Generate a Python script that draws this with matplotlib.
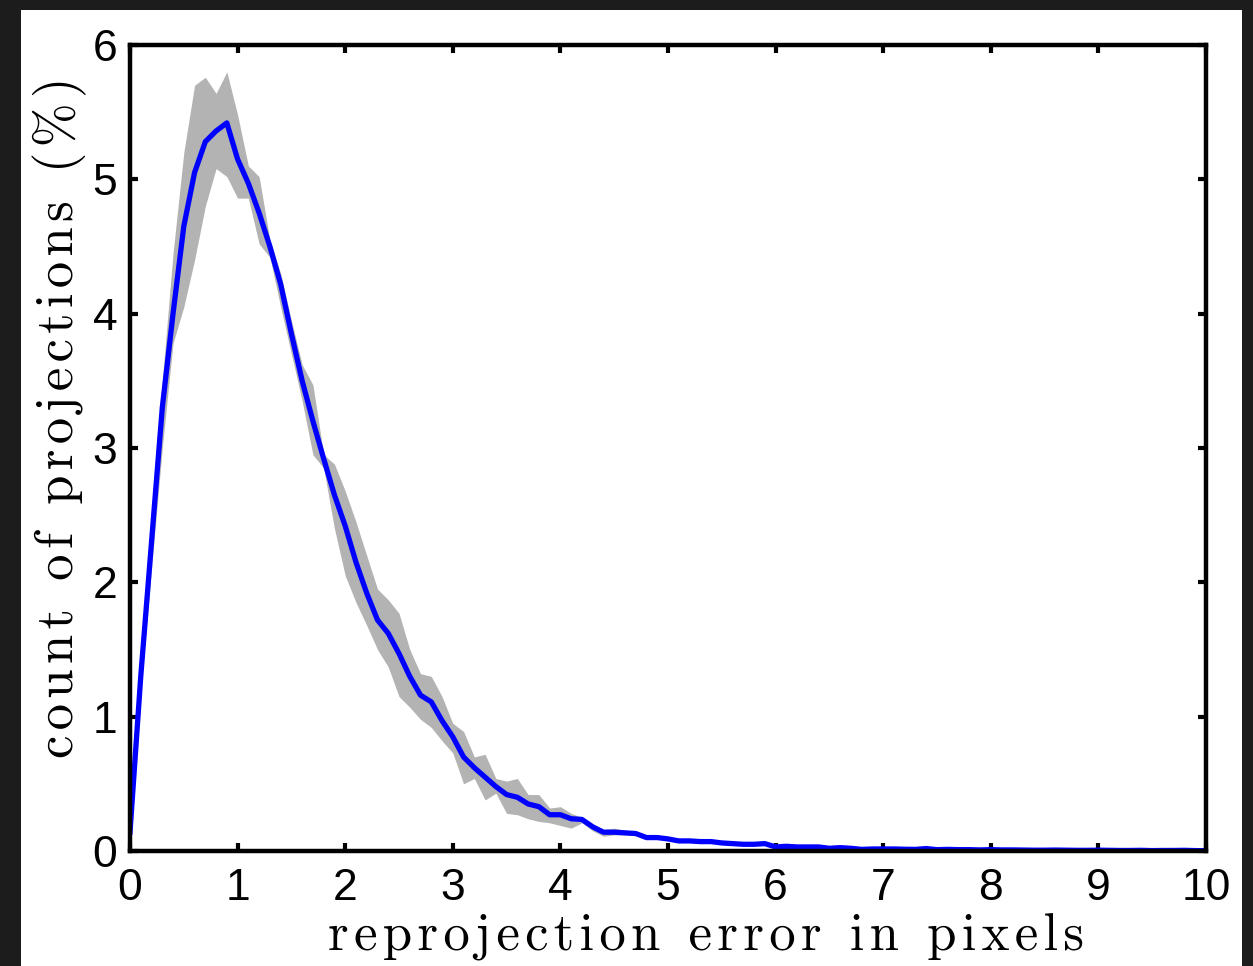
import numpy as np
import matplotlib
matplotlib.use('Agg')
import matplotlib.pyplot as plt
from matplotlib.patches import Rectangle

# reprojection error bins (pixels)
err_px = np.linspace(0.0, 10.0, 101)

# mean histogram (% of projections)
mean_pct = [
    0.14, 1.30, 2.30, 3.30, 4.00, 4.65, 5.05, 5.28, 5.36, 5.42,
    5.15, 4.97, 4.75, 4.50, 4.22, 3.85, 3.50, 3.20, 2.92, 2.65,
    2.42, 2.15, 1.92, 1.72, 1.62, 1.47, 1.30, 1.16, 1.11, 0.97,
    0.85, 0.70, 0.62, 0.55, 0.48, 0.42, 0.40, 0.35, 0.33, 0.27,
    0.27, 0.24, 0.235, 0.18, 0.14, 0.14, 0.135, 0.13, 0.10, 0.10,
    0.09, 0.075, 0.075, 0.07, 0.07, 0.06, 0.055, 0.05, 0.05, 0.055,
    0.03, 0.035, 0.03, 0.03, 0.03, 0.02, 0.025, 0.02, 0.012, 0.015,
    0.015, 0.015, 0.013, 0.012, 0.018, 0.01, 0.012, 0.01, 0.01, 0.008,
    0.01, 0.008, 0.008, 0.007, 0.006, 0.006, 0.007, 0.006, 0.005, 0.005,
    0.006, 0.005, 0.004, 0.004, 0.005, 0.003, 0.004, 0.004, 0.005, 0.003,
    0.002,
]

# lower / upper envelope of the runs
low_pct = [
    0.12, 1.20, 2.10, 3.00, 3.78, 4.05, 4.40, 4.80, 5.08, 5.02,
    4.86, 4.86, 4.52, 4.42, 4.05, 3.70, 3.35, 2.95, 2.85, 2.40,
    2.05, 1.85, 1.68, 1.50, 1.37, 1.15, 1.07, 0.98, 0.92, 0.82,
    0.73, 0.50, 0.54, 0.38, 0.43, 0.28, 0.27, 0.24, 0.22, 0.21,
    0.19, 0.17, 0.21, 0.15, 0.11, 0.12, 0.12, 0.115, 0.09, 0.09,
    0.08, 0.065, 0.065, 0.06, 0.06, 0.052, 0.047, 0.043, 0.043, 0.045,
    0.025, 0.028, 0.025, 0.025, 0.024, 0.016, 0.02, 0.016, 0.009, 0.011,
    0.011, 0.011, 0.01, 0.009, 0.013, 0.007, 0.009, 0.007, 0.007, 0.006,
    0.007, 0.006, 0.006, 0.005, 0.004, 0.004, 0.005, 0.004, 0.003, 0.003,
    0.004, 0.003, 0.003, 0.003, 0.003, 0.002, 0.003, 0.003, 0.003, 0.002,
    0.001,
]
high_pct = [
    0.16, 1.40, 2.50, 3.50, 4.45, 5.20, 5.70, 5.76, 5.64, 5.80,
    5.48, 5.10, 5.02, 4.55, 4.30, 3.95, 3.62, 3.47, 2.95, 2.88,
    2.68, 2.45, 2.20, 1.95, 1.87, 1.77, 1.50, 1.32, 1.30, 1.15,
    0.95, 0.89, 0.70, 0.72, 0.54, 0.52, 0.54, 0.42, 0.42, 0.32,
    0.33, 0.28, 0.25, 0.20, 0.16, 0.17, 0.155, 0.145, 0.11, 0.11,
    0.10, 0.085, 0.085, 0.08, 0.08, 0.068, 0.063, 0.057, 0.057, 0.065,
    0.035, 0.042, 0.035, 0.035, 0.036, 0.024, 0.03, 0.024, 0.015, 0.019,
    0.019, 0.019, 0.016, 0.015, 0.023, 0.013, 0.015, 0.013, 0.013, 0.01,
    0.013, 0.01, 0.01, 0.009, 0.008, 0.008, 0.009, 0.008, 0.007, 0.007,
    0.008, 0.007, 0.005, 0.005, 0.007, 0.004, 0.005, 0.005, 0.007, 0.004,
    0.003,
]

xticks = [0, 1, 2, 3, 4, 5, 6, 7, 8, 9, 10]
yticks = [0, 1, 2, 3, 4, 5, 6]
xlabel = 'reprojection error in pixels'
ylabel = 'count of projections (%)'


def spaced(s, gap='\u200a'):
    # the original labels are letter-spaced; pad with hair spaces
    return gap.join(s)


W, H = 1253, 966
fig = plt.figure(figsize=(W / 100, H / 100), dpi=100, facecolor='#1c1c1c')

# white page on the dark backdrop
fig.patches.append(Rectangle((21 / W, 0), (1242 - 21) / W, (966 - 10) / H,
                             transform=fig.transFigure, facecolor='white',
                             edgecolor='none', zorder=-5))

ax = fig.add_axes([130 / W, (966 - 851) / H, (1206 - 130) / W, (851 - 45) / H])
ax.set_zorder(2)

ax.fill_between(err_px, low_pct, high_pct, color='#b3b3b3', linewidth=0)
ax.plot(err_px, mean_pct, color='#0000ff', linewidth=3.8)

ax.set_xlim(0, 10)
ax.set_ylim(0, 6)
ax.set_xticks(xticks)
ax.set_yticks(yticks)
ax.tick_params(direction='in', top=True, right=True, length=6, width=3,
               labelsize=32)
ax.tick_params(axis='x', pad=12)
ax.tick_params(axis='y', pad=9)
for lab in ax.get_xticklabels() + ax.get_yticklabels():
    lab.set_family('Liberation Sans')
for s in ax.spines.values():
    s.set_linewidth(3.2)

lab_font = ['cmr10', 'DejaVu Sans']
ax.set_xlabel(spaced(xlabel), family=lab_font, fontsize=38)
ax.set_ylabel(spaced(ylabel), family=lab_font, fontsize=38)
ax.xaxis.set_label_coords(0.535, -0.077)
ax.yaxis.set_label_coords(-0.04, 0.538)

fig.savefig('out.png', dpi=100, facecolor=fig.get_facecolor())
